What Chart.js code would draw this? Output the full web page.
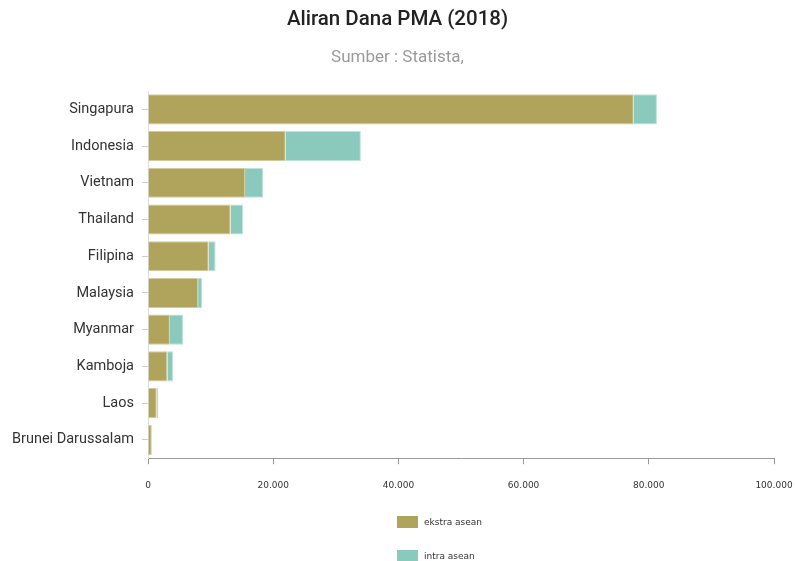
<!DOCTYPE html>
<html>
<head>
<meta charset="utf-8">
<script src="https://cdn.jsdelivr.net/npm/chart.js@4"></script>
<style>
    body { margin: 0; background: #fff; }
    #wrap { position: relative; width: 795px; height: 561px; }
    #legend { position: absolute; left: 397px; top: 516px; font: 9px "DejaVu Sans", sans-serif; color: #333; }
    .item { display: flex; align-items: center; height: 12px; margin-bottom: 22px; }
    .box { width: 21px; height: 12px; margin-right: 6px; }
</style>
</head>
<body>
<div id="wrap">
    <canvas id="chartPMA" width="795" height="561"></canvas>
    <div id="legend"></div>
</div>
<script>
// Data
const negara = ['Singapura', 'Indonesia', 'Vietnam', 'Thailand', 'Filipina', 'Malaysia', 'Myanmar', 'Kamboja', 'Laos', 'Brunei Darussalam'];
const ekstraAsean = [77600, 22000, 15500, 13200, 9700, 8000, 3500, 3100, 1400, 600];
const intraAsean = [3700, 12000, 2900, 2000, 1100, 650, 2100, 900, 250, 50];
const xTicks = [0, 20000, 40000, 60000, 80000, 100000];

const warnaEkstra = '#b0a35b';
const warnaIntra = '#8ac9bc';

// Format angka dengan titik ribuan
function formatAngka(v) {
    return String(v).replace(/\B(?=(\d{3})+(?!\d))/g, '.');
}

const ctx = document.getElementById('chartPMA').getContext('2d');
const chartInstance = new Chart(ctx, {
    type: 'bar',
    data: {
        labels: negara,
        datasets: [
            {
                label: 'ekstra asean',
                data: ekstraAsean,
                backgroundColor: warnaEkstra,
                borderColor: '#d3cb9f',
                borderWidth: 1,
            },
            {
                label: 'intra asean',
                data: intraAsean,
                backgroundColor: warnaIntra,
                borderColor: '#bde3db',
                borderWidth: 1,
            },
        ],
    },
    options: {
        indexAxis: 'y',
        responsive: false,
        animation: false,
        layout: { padding: { bottom: 54, right: 0 } },
        datasets: { bar: { categoryPercentage: 1, barPercentage: 0.82 } },
        plugins: {
            legend: { display: false },
            tooltip: { enabled: false },
            title: {
                display: true,
                text: 'Aliran Dana PMA (2018)',
                color: '#222',
                font: { family: 'Roboto', size: 20.5, weight: '500' },
                padding: { top: 8, bottom: 15 },
            },
            subtitle: {
                display: true,
                text: 'Sumber : Statista,',
                color: '#9a9a9a',
                font: { family: 'Roboto', size: 17 },
                padding: { top: 0, bottom: 23 },
            },
        },
        scales: {
            x: {
                stacked: true,
                min: 0,
                max: 100000,
                afterBuildTicks: (scale) => { scale.ticks = xTicks.map(v => ({ value: v })); },
                afterFit: (scale) => { scale.paddingRight = 21; scale.paddingLeft = 0; },
                border: { color: '#999', width: 1 },
                grid: { drawOnChartArea: false, drawTicks: true, tickLength: 6, tickColor: '#999' },
                ticks: {
                    color: '#333',
                    font: { family: 'DejaVu Sans', size: 9 },
                    padding: 16,
                    maxRotation: 0,
                    callback: (v) => formatAngka(v),
                },
            },
            y: {
                stacked: true,
                afterFit: (scale) => { scale.width = 148; },
                border: { color: '#ddd', width: 1 },
                grid: { offset: false, drawOnChartArea: false, drawTicks: true, tickLength: 6, tickColor: '#ccc' },
                ticks: {
                    color: '#333',
                    font: { family: 'Roboto', size: 14.5 },
                    padding: 8,
                },
            },
        },
    },
});

// Legend manual (tersusun vertikal)
const legendEl = document.getElementById('legend');
chartInstance.data.datasets.forEach(ds => {
    const item = document.createElement('div');
    item.className = 'item';
    const box = document.createElement('span');
    box.className = 'box';
    box.style.background = ds.backgroundColor;
    const txt = document.createElement('span');
    txt.textContent = ds.label;
    item.appendChild(box);
    item.appendChild(txt);
    legendEl.appendChild(item);
});
</script>
</body>
</html>
